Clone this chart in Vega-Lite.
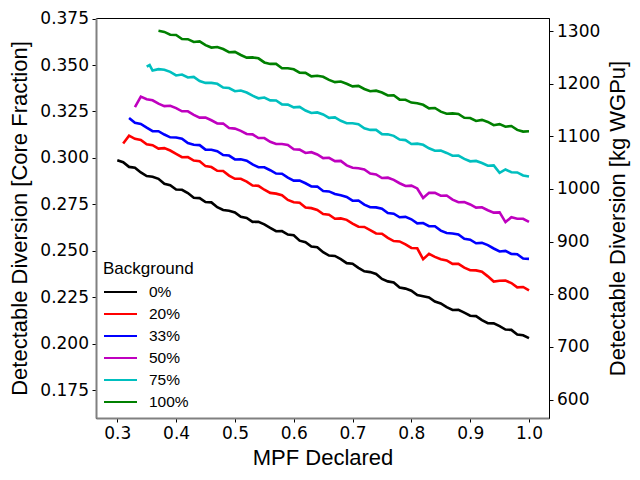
{
"$schema":"https://vega.github.io/schema/vega-lite/v6.json",
"width":453,"height":400,
"autosize":{"type":"none"},
"padding":{"left":96,"top":18,"right":91,"bottom":62},
"background":"white",
"config":{"view":{"stroke":"#000000","strokeWidth":1},
 "axis":{"labelFont":"DejaVu Sans","labelFontSize":17,"labelColor":"#000","titleFont":"Liberation Sans","titleFontSize":22,"titleFontWeight":"normal","titleColor":"#000","grid":false,"tickSize":4,"tickColor":"#000","tickWidth":1,"labelPadding":3.5}},
"layer":[
{"data":{"values":[
{"mpf":0.30,"div":0.2988,"bg":"0%"},{"mpf":0.31,"div":0.2977,"bg":"0%"},{"mpf":0.32,"div":0.2952,"bg":"0%"},{"mpf":0.33,"div":0.2948,"bg":"0%"},{"mpf":0.34,"div":0.2922,"bg":"0%"},{"mpf":0.35,"div":0.2903,"bg":"0%"},{"mpf":0.36,"div":0.2899,"bg":"0%"},{"mpf":0.37,"div":0.2888,"bg":"0%"},{"mpf":0.38,"div":0.2861,"bg":"0%"},{"mpf":0.39,"div":0.2853,"bg":"0%"},
{"mpf":0.40,"div":0.2830,"bg":"0%"},{"mpf":0.41,"div":0.2829,"bg":"0%"},{"mpf":0.42,"div":0.2811,"bg":"0%"},{"mpf":0.43,"div":0.2786,"bg":"0%"},{"mpf":0.44,"div":0.2784,"bg":"0%"},{"mpf":0.45,"div":0.2763,"bg":"0%"},{"mpf":0.46,"div":0.2761,"bg":"0%"},{"mpf":0.47,"div":0.2735,"bg":"0%"},{"mpf":0.48,"div":0.2720,"bg":"0%"},{"mpf":0.49,"div":0.2716,"bg":"0%"},
{"mpf":0.50,"div":0.2707,"bg":"0%"},{"mpf":0.51,"div":0.2683,"bg":"0%"},{"mpf":0.52,"div":0.2677,"bg":"0%"},{"mpf":0.53,"div":0.2656,"bg":"0%"},{"mpf":0.54,"div":0.2657,"bg":"0%"},{"mpf":0.55,"div":0.2643,"bg":"0%"},{"mpf":0.56,"div":0.2624,"bg":"0%"},{"mpf":0.57,"div":0.2606,"bg":"0%"},{"mpf":0.58,"div":0.2607,"bg":"0%"},{"mpf":0.59,"div":0.2588,"bg":"0%"},
{"mpf":0.60,"div":0.2584,"bg":"0%"},{"mpf":0.61,"div":0.2555,"bg":"0%"},{"mpf":0.62,"div":0.2547,"bg":"0%"},{"mpf":0.63,"div":0.2524,"bg":"0%"},{"mpf":0.64,"div":0.2520,"bg":"0%"},{"mpf":0.65,"div":0.2493,"bg":"0%"},{"mpf":0.66,"div":0.2475,"bg":"0%"},{"mpf":0.67,"div":0.2473,"bg":"0%"},{"mpf":0.68,"div":0.2456,"bg":"0%"},{"mpf":0.69,"div":0.2434,"bg":"0%"},
{"mpf":0.70,"div":0.2431,"bg":"0%"},{"mpf":0.71,"div":0.2409,"bg":"0%"},{"mpf":0.72,"div":0.2390,"bg":"0%"},{"mpf":0.73,"div":0.2386,"bg":"0%"},{"mpf":0.74,"div":0.2376,"bg":"0%"},{"mpf":0.75,"div":0.2349,"bg":"0%"},{"mpf":0.76,"div":0.2336,"bg":"0%"},{"mpf":0.77,"div":0.2330,"bg":"0%"},{"mpf":0.78,"div":0.2303,"bg":"0%"},{"mpf":0.79,"div":0.2297,"bg":"0%"},
{"mpf":0.80,"div":0.2286,"bg":"0%"},{"mpf":0.81,"div":0.2262,"bg":"0%"},{"mpf":0.82,"div":0.2256,"bg":"0%"},{"mpf":0.83,"div":0.2250,"bg":"0%"},{"mpf":0.84,"div":0.2228,"bg":"0%"},{"mpf":0.85,"div":0.2217,"bg":"0%"},{"mpf":0.86,"div":0.2197,"bg":"0%"},{"mpf":0.87,"div":0.2182,"bg":"0%"},{"mpf":0.88,"div":0.2183,"bg":"0%"},{"mpf":0.89,"div":0.2168,"bg":"0%"},
{"mpf":0.90,"div":0.2151,"bg":"0%"},{"mpf":0.91,"div":0.2149,"bg":"0%"},{"mpf":0.92,"div":0.2128,"bg":"0%"},{"mpf":0.93,"div":0.2111,"bg":"0%"},{"mpf":0.94,"div":0.2110,"bg":"0%"},{"mpf":0.95,"div":0.2095,"bg":"0%"},{"mpf":0.96,"div":0.2077,"bg":"0%"},{"mpf":0.97,"div":0.2075,"bg":"0%"},{"mpf":0.98,"div":0.2050,"bg":"0%"},{"mpf":0.99,"div":0.2046,"bg":"0%"},{"mpf":1.00,"div":0.2031,"bg":"0%"},

{"mpf":0.31,"div":0.3078,"bg":"20%"},{"mpf":0.32,"div":0.3120,"bg":"20%"},{"mpf":0.33,"div":0.3103,"bg":"20%"},{"mpf":0.34,"div":0.3097,"bg":"20%"},{"mpf":0.35,"div":0.3074,"bg":"20%"},{"mpf":0.36,"div":0.3069,"bg":"20%"},{"mpf":0.37,"div":0.3050,"bg":"20%"},{"mpf":0.38,"div":0.3053,"bg":"20%"},{"mpf":0.39,"div":0.3040,"bg":"20%"},
{"mpf":0.40,"div":0.3022,"bg":"20%"},{"mpf":0.41,"div":0.3004,"bg":"20%"},{"mpf":0.42,"div":0.3005,"bg":"20%"},{"mpf":0.43,"div":0.2986,"bg":"20%"},{"mpf":0.44,"div":0.2982,"bg":"20%"},{"mpf":0.45,"div":0.2956,"bg":"20%"},{"mpf":0.46,"div":0.2951,"bg":"20%"},{"mpf":0.47,"div":0.2931,"bg":"20%"},{"mpf":0.48,"div":0.2930,"bg":"20%"},{"mpf":0.49,"div":0.2905,"bg":"20%"},
{"mpf":0.50,"div":0.2888,"bg":"20%"},{"mpf":0.51,"div":0.2888,"bg":"20%"},{"mpf":0.52,"div":0.2873,"bg":"20%"},{"mpf":0.53,"div":0.2852,"bg":"20%"},{"mpf":0.54,"div":0.2850,"bg":"20%"},{"mpf":0.55,"div":0.2829,"bg":"20%"},{"mpf":0.56,"div":0.2812,"bg":"20%"},{"mpf":0.57,"div":0.2808,"bg":"20%"},{"mpf":0.58,"div":0.2800,"bg":"20%"},{"mpf":0.59,"div":0.2774,"bg":"20%"},
{"mpf":0.60,"div":0.2762,"bg":"20%"},{"mpf":0.61,"div":0.2759,"bg":"20%"},{"mpf":0.62,"div":0.2733,"bg":"20%"},{"mpf":0.63,"div":0.2730,"bg":"20%"},{"mpf":0.64,"div":0.2720,"bg":"20%"},{"mpf":0.65,"div":0.2698,"bg":"20%"},{"mpf":0.66,"div":0.2695,"bg":"20%"},{"mpf":0.67,"div":0.2673,"bg":"20%"},{"mpf":0.68,"div":0.2675,"bg":"20%"},{"mpf":0.69,"div":0.2667,"bg":"20%"},
{"mpf":0.70,"div":0.2647,"bg":"20%"},{"mpf":0.71,"div":0.2630,"bg":"20%"},{"mpf":0.72,"div":0.2629,"bg":"20%"},{"mpf":0.73,"div":0.2612,"bg":"20%"},{"mpf":0.74,"div":0.2594,"bg":"20%"},{"mpf":0.75,"div":0.2592,"bg":"20%"},{"mpf":0.76,"div":0.2570,"bg":"20%"},{"mpf":0.77,"div":0.2553,"bg":"20%"},{"mpf":0.78,"div":0.2551,"bg":"20%"},{"mpf":0.79,"div":0.2535,"bg":"20%"},
{"mpf":0.80,"div":0.2516,"bg":"20%"},{"mpf":0.81,"div":0.2514,"bg":"20%"},{"mpf":0.82,"div":0.2455,"bg":"20%"},{"mpf":0.83,"div":0.2484,"bg":"20%"},{"mpf":0.84,"div":0.2468,"bg":"20%"},{"mpf":0.85,"div":0.2455,"bg":"20%"},{"mpf":0.86,"div":0.2449,"bg":"20%"},{"mpf":0.87,"div":0.2430,"bg":"20%"},{"mpf":0.88,"div":0.2430,"bg":"20%"},{"mpf":0.89,"div":0.2410,"bg":"20%"},
{"mpf":0.90,"div":0.2396,"bg":"20%"},{"mpf":0.91,"div":0.2395,"bg":"20%"},{"mpf":0.92,"div":0.2388,"bg":"20%"},{"mpf":0.93,"div":0.2363,"bg":"20%"},{"mpf":0.94,"div":0.2335,"bg":"20%"},{"mpf":0.95,"div":0.2339,"bg":"20%"},{"mpf":0.96,"div":0.2341,"bg":"20%"},{"mpf":0.97,"div":0.2327,"bg":"20%"},{"mpf":0.98,"div":0.2304,"bg":"20%"},{"mpf":0.99,"div":0.2306,"bg":"20%"},{"mpf":1.00,"div":0.2288,"bg":"20%"},

{"mpf":0.32,"div":0.3215,"bg":"33%"},{"mpf":0.33,"div":0.3189,"bg":"33%"},{"mpf":0.34,"div":0.3183,"bg":"33%"},{"mpf":0.35,"div":0.3163,"bg":"33%"},{"mpf":0.36,"div":0.3144,"bg":"33%"},{"mpf":0.37,"div":0.3144,"bg":"33%"},{"mpf":0.38,"div":0.3126,"bg":"33%"},{"mpf":0.39,"div":0.3111,"bg":"33%"},
{"mpf":0.40,"div":0.3110,"bg":"33%"},{"mpf":0.41,"div":0.3104,"bg":"33%"},{"mpf":0.42,"div":0.3080,"bg":"33%"},{"mpf":0.43,"div":0.3071,"bg":"33%"},{"mpf":0.44,"div":0.3069,"bg":"33%"},{"mpf":0.45,"div":0.3045,"bg":"33%"},{"mpf":0.46,"div":0.3044,"bg":"33%"},{"mpf":0.47,"div":0.3036,"bg":"33%"},{"mpf":0.48,"div":0.3016,"bg":"33%"},{"mpf":0.49,"div":0.3013,"bg":"33%"},
{"mpf":0.50,"div":0.2992,"bg":"33%"},{"mpf":0.51,"div":0.2993,"bg":"33%"},{"mpf":0.52,"div":0.2985,"bg":"33%"},{"mpf":0.53,"div":0.2965,"bg":"33%"},{"mpf":0.54,"div":0.2950,"bg":"33%"},{"mpf":0.55,"div":0.2950,"bg":"33%"},{"mpf":0.56,"div":0.2934,"bg":"33%"},{"mpf":0.57,"div":0.2916,"bg":"33%"},{"mpf":0.58,"div":0.2915,"bg":"33%"},{"mpf":0.59,"div":0.2894,"bg":"33%"},
{"mpf":0.60,"div":0.2878,"bg":"33%"},{"mpf":0.61,"div":0.2878,"bg":"33%"},{"mpf":0.62,"div":0.2864,"bg":"33%"},{"mpf":0.63,"div":0.2847,"bg":"33%"},{"mpf":0.64,"div":0.2846,"bg":"33%"},{"mpf":0.65,"div":0.2822,"bg":"33%"},{"mpf":0.66,"div":0.2820,"bg":"33%"},{"mpf":0.67,"div":0.2806,"bg":"33%"},{"mpf":0.68,"div":0.2799,"bg":"33%"},{"mpf":0.69,"div":0.2790,"bg":"33%"},
{"mpf":0.70,"div":0.2770,"bg":"33%"},{"mpf":0.71,"div":0.2771,"bg":"33%"},{"mpf":0.72,"div":0.2749,"bg":"33%"},{"mpf":0.73,"div":0.2735,"bg":"33%"},{"mpf":0.74,"div":0.2734,"bg":"33%"},{"mpf":0.75,"div":0.2727,"bg":"33%"},{"mpf":0.76,"div":0.2704,"bg":"33%"},{"mpf":0.77,"div":0.2700,"bg":"33%"},{"mpf":0.78,"div":0.2681,"bg":"33%"},{"mpf":0.79,"div":0.2683,"bg":"33%"},
{"mpf":0.80,"div":0.2670,"bg":"33%"},{"mpf":0.81,"div":0.2648,"bg":"33%"},{"mpf":0.82,"div":0.2650,"bg":"33%"},{"mpf":0.83,"div":0.2633,"bg":"33%"},{"mpf":0.84,"div":0.2633,"bg":"33%"},{"mpf":0.85,"div":0.2609,"bg":"33%"},{"mpf":0.86,"div":0.2596,"bg":"33%"},{"mpf":0.87,"div":0.2594,"bg":"33%"},{"mpf":0.88,"div":0.2588,"bg":"33%"},{"mpf":0.89,"div":0.2565,"bg":"33%"},
{"mpf":0.90,"div":0.2560,"bg":"33%"},{"mpf":0.91,"div":0.2541,"bg":"33%"},{"mpf":0.92,"div":0.2543,"bg":"33%"},{"mpf":0.93,"div":0.2531,"bg":"33%"},{"mpf":0.94,"div":0.2513,"bg":"33%"},{"mpf":0.95,"div":0.2497,"bg":"33%"},{"mpf":0.96,"div":0.2500,"bg":"33%"},{"mpf":0.97,"div":0.2484,"bg":"33%"},{"mpf":0.98,"div":0.2482,"bg":"33%"},{"mpf":0.99,"div":0.2459,"bg":"33%"},{"mpf":1.00,"div":0.2457,"bg":"33%"},

{"mpf":0.33,"div":0.3273,"bg":"50%"},{"mpf":0.34,"div":0.3330,"bg":"50%"},{"mpf":0.35,"div":0.3316,"bg":"50%"},{"mpf":0.36,"div":0.3310,"bg":"50%"},{"mpf":0.37,"div":0.3292,"bg":"50%"},{"mpf":0.38,"div":0.3279,"bg":"50%"},{"mpf":0.39,"div":0.3281,"bg":"50%"},
{"mpf":0.40,"div":0.3268,"bg":"50%"},{"mpf":0.41,"div":0.3251,"bg":"50%"},{"mpf":0.42,"div":0.3251,"bg":"50%"},{"mpf":0.43,"div":0.3232,"bg":"50%"},{"mpf":0.44,"div":0.3217,"bg":"50%"},{"mpf":0.45,"div":0.3217,"bg":"50%"},{"mpf":0.46,"div":0.3203,"bg":"50%"},{"mpf":0.47,"div":0.3186,"bg":"50%"},{"mpf":0.48,"div":0.3185,"bg":"50%"},{"mpf":0.49,"div":0.3161,"bg":"50%"},
{"mpf":0.50,"div":0.3158,"bg":"50%"},{"mpf":0.51,"div":0.3146,"bg":"50%"},{"mpf":0.52,"div":0.3129,"bg":"50%"},{"mpf":0.53,"div":0.3127,"bg":"50%"},{"mpf":0.54,"div":0.3107,"bg":"50%"},{"mpf":0.55,"div":0.3107,"bg":"50%"},{"mpf":0.56,"div":0.3087,"bg":"50%"},{"mpf":0.57,"div":0.3075,"bg":"50%"},{"mpf":0.58,"div":0.3075,"bg":"50%"},{"mpf":0.59,"div":0.3070,"bg":"50%"},
{"mpf":0.60,"div":0.3047,"bg":"50%"},{"mpf":0.61,"div":0.3045,"bg":"50%"},{"mpf":0.62,"div":0.3027,"bg":"50%"},{"mpf":0.63,"div":0.3031,"bg":"50%"},{"mpf":0.64,"div":0.3019,"bg":"50%"},{"mpf":0.65,"div":0.2999,"bg":"50%"},{"mpf":0.66,"div":0.3001,"bg":"50%"},{"mpf":0.67,"div":0.2983,"bg":"50%"},{"mpf":0.68,"div":0.2984,"bg":"50%"},{"mpf":0.69,"div":0.2960,"bg":"50%"},
{"mpf":0.70,"div":0.2947,"bg":"50%"},{"mpf":0.71,"div":0.2945,"bg":"50%"},{"mpf":0.72,"div":0.2938,"bg":"50%"},{"mpf":0.73,"div":0.2916,"bg":"50%"},{"mpf":0.74,"div":0.2911,"bg":"50%"},{"mpf":0.75,"div":0.2892,"bg":"50%"},{"mpf":0.76,"div":0.2894,"bg":"50%"},{"mpf":0.77,"div":0.2882,"bg":"50%"},{"mpf":0.78,"div":0.2864,"bg":"50%"},{"mpf":0.79,"div":0.2849,"bg":"50%"},
{"mpf":0.80,"div":0.2851,"bg":"50%"},{"mpf":0.81,"div":0.2836,"bg":"50%"},{"mpf":0.82,"div":0.2785,"bg":"50%"},{"mpf":0.83,"div":0.2813,"bg":"50%"},{"mpf":0.84,"div":0.2812,"bg":"50%"},{"mpf":0.85,"div":0.2797,"bg":"50%"},{"mpf":0.86,"div":0.2798,"bg":"50%"},{"mpf":0.87,"div":0.2776,"bg":"50%"},{"mpf":0.88,"div":0.2762,"bg":"50%"},{"mpf":0.89,"div":0.2763,"bg":"50%"},
{"mpf":0.90,"div":0.2750,"bg":"50%"},{"mpf":0.91,"div":0.2733,"bg":"50%"},{"mpf":0.92,"div":0.2735,"bg":"50%"},{"mpf":0.93,"div":0.2719,"bg":"50%"},{"mpf":0.94,"div":0.2706,"bg":"50%"},{"mpf":0.95,"div":0.2707,"bg":"50%"},{"mpf":0.96,"div":0.2655,"bg":"50%"},{"mpf":0.97,"div":0.2681,"bg":"50%"},{"mpf":0.98,"div":0.2673,"bg":"50%"},{"mpf":0.99,"div":0.2673,"bg":"50%"},{"mpf":1.00,"div":0.2656,"bg":"50%"},

{"mpf":0.35,"div":0.3491,"bg":"75%"},{"mpf":0.355,"div":0.3500,"bg":"75%"},{"mpf":0.36,"div":0.3470,"bg":"75%"},{"mpf":0.37,"div":0.3478,"bg":"75%"},{"mpf":0.38,"div":0.3475,"bg":"75%"},{"mpf":0.39,"div":0.3463,"bg":"75%"},
{"mpf":0.40,"div":0.3444,"bg":"75%"},{"mpf":0.41,"div":0.3449,"bg":"75%"},{"mpf":0.42,"div":0.3433,"bg":"75%"},{"mpf":0.43,"div":0.3436,"bg":"75%"},{"mpf":0.44,"div":0.3414,"bg":"75%"},{"mpf":0.45,"div":0.3404,"bg":"75%"},{"mpf":0.46,"div":0.3404,"bg":"75%"},{"mpf":0.47,"div":0.3399,"bg":"75%"},{"mpf":0.48,"div":0.3379,"bg":"75%"},{"mpf":0.49,"div":0.3376,"bg":"75%"},
{"mpf":0.50,"div":0.3359,"bg":"75%"},{"mpf":0.51,"div":0.3363,"bg":"75%"},{"mpf":0.52,"div":0.3352,"bg":"75%"},{"mpf":0.53,"div":0.3335,"bg":"75%"},{"mpf":0.54,"div":0.3321,"bg":"75%"},{"mpf":0.55,"div":0.3325,"bg":"75%"},{"mpf":0.56,"div":0.3310,"bg":"75%"},{"mpf":0.57,"div":0.3309,"bg":"75%"},{"mpf":0.58,"div":0.3288,"bg":"75%"},{"mpf":0.59,"div":0.3287,"bg":"75%"},
{"mpf":0.60,"div":0.3272,"bg":"75%"},{"mpf":0.61,"div":0.3275,"bg":"75%"},{"mpf":0.62,"div":0.3255,"bg":"75%"},{"mpf":0.63,"div":0.3242,"bg":"75%"},{"mpf":0.64,"div":0.3245,"bg":"75%"},{"mpf":0.65,"div":0.3234,"bg":"75%"},{"mpf":0.66,"div":0.3216,"bg":"75%"},{"mpf":0.67,"div":0.3218,"bg":"75%"},{"mpf":0.68,"div":0.3200,"bg":"75%"},{"mpf":0.69,"div":0.3187,"bg":"75%"},
{"mpf":0.70,"div":0.3187,"bg":"75%"},{"mpf":0.71,"div":0.3182,"bg":"75%"},{"mpf":0.72,"div":0.3160,"bg":"75%"},{"mpf":0.73,"div":0.3151,"bg":"75%"},{"mpf":0.74,"div":0.3151,"bg":"75%"},{"mpf":0.75,"div":0.3128,"bg":"75%"},{"mpf":0.76,"div":0.3127,"bg":"75%"},{"mpf":0.77,"div":0.3119,"bg":"75%"},{"mpf":0.78,"div":0.3099,"bg":"75%"},{"mpf":0.79,"div":0.3096,"bg":"75%"},
{"mpf":0.80,"div":0.3075,"bg":"75%"},{"mpf":0.81,"div":0.3077,"bg":"75%"},{"mpf":0.82,"div":0.3071,"bg":"75%"},{"mpf":0.83,"div":0.3052,"bg":"75%"},{"mpf":0.84,"div":0.3039,"bg":"75%"},{"mpf":0.85,"div":0.3040,"bg":"75%"},{"mpf":0.86,"div":0.3027,"bg":"75%"},{"mpf":0.87,"div":0.3012,"bg":"75%"},{"mpf":0.88,"div":0.3013,"bg":"75%"},{"mpf":0.89,"div":0.2995,"bg":"75%"},
{"mpf":0.90,"div":0.2982,"bg":"75%"},{"mpf":0.91,"div":0.2984,"bg":"75%"},{"mpf":0.92,"div":0.2973,"bg":"75%"},{"mpf":0.93,"div":0.2958,"bg":"75%"},{"mpf":0.94,"div":0.2960,"bg":"75%"},{"mpf":0.95,"div":0.2920,"bg":"75%"},{"mpf":0.96,"div":0.2938,"bg":"75%"},{"mpf":0.97,"div":0.2923,"bg":"75%"},{"mpf":0.98,"div":0.2922,"bg":"75%"},{"mpf":0.99,"div":0.2906,"bg":"75%"},{"mpf":1.00,"div":0.2900,"bg":"75%"},

{"mpf":0.37,"div":0.3684,"bg":"100%"},{"mpf":0.38,"div":0.3678,"bg":"100%"},{"mpf":0.39,"div":0.3663,"bg":"100%"},
{"mpf":0.40,"div":0.3662,"bg":"100%"},{"mpf":0.41,"div":0.3640,"bg":"100%"},{"mpf":0.42,"div":0.3639,"bg":"100%"},{"mpf":0.43,"div":0.3624,"bg":"100%"},{"mpf":0.44,"div":0.3627,"bg":"100%"},{"mpf":0.45,"div":0.3607,"bg":"100%"},{"mpf":0.46,"div":0.3594,"bg":"100%"},{"mpf":0.47,"div":0.3597,"bg":"100%"},{"mpf":0.48,"div":0.3586,"bg":"100%"},{"mpf":0.49,"div":0.3569,"bg":"100%"},
{"mpf":0.50,"div":0.3571,"bg":"100%"},{"mpf":0.51,"div":0.3554,"bg":"100%"},{"mpf":0.52,"div":0.3540,"bg":"100%"},{"mpf":0.53,"div":0.3541,"bg":"100%"},{"mpf":0.54,"div":0.3536,"bg":"100%"},{"mpf":0.55,"div":0.3514,"bg":"100%"},{"mpf":0.56,"div":0.3506,"bg":"100%"},{"mpf":0.57,"div":0.3506,"bg":"100%"},{"mpf":0.58,"div":0.3483,"bg":"100%"},{"mpf":0.59,"div":0.3483,"bg":"100%"},
{"mpf":0.60,"div":0.3477,"bg":"100%"},{"mpf":0.61,"div":0.3459,"bg":"100%"},{"mpf":0.62,"div":0.3458,"bg":"100%"},{"mpf":0.63,"div":0.3439,"bg":"100%"},{"mpf":0.64,"div":0.3442,"bg":"100%"},{"mpf":0.65,"div":0.3437,"bg":"100%"},{"mpf":0.66,"div":0.3420,"bg":"100%"},{"mpf":0.67,"div":0.3408,"bg":"100%"},{"mpf":0.68,"div":0.3411,"bg":"100%"},{"mpf":0.69,"div":0.3399,"bg":"100%"},
{"mpf":0.70,"div":0.3385,"bg":"100%"},{"mpf":0.71,"div":0.3388,"bg":"100%"},{"mpf":0.72,"div":0.3371,"bg":"100%"},{"mpf":0.73,"div":0.3359,"bg":"100%"},{"mpf":0.74,"div":0.3362,"bg":"100%"},{"mpf":0.75,"div":0.3352,"bg":"100%"},{"mpf":0.76,"div":0.3336,"bg":"100%"},{"mpf":0.77,"div":0.3337,"bg":"100%"},{"mpf":0.78,"div":0.3314,"bg":"100%"},{"mpf":0.79,"div":0.3313,"bg":"100%"},
{"mpf":0.80,"div":0.3298,"bg":"100%"},{"mpf":0.81,"div":0.3294,"bg":"100%"},{"mpf":0.82,"div":0.3286,"bg":"100%"},{"mpf":0.83,"div":0.3267,"bg":"100%"},{"mpf":0.84,"div":0.3269,"bg":"100%"},{"mpf":0.85,"div":0.3249,"bg":"100%"},{"mpf":0.86,"div":0.3238,"bg":"100%"},{"mpf":0.87,"div":0.3240,"bg":"100%"},{"mpf":0.88,"div":0.3237,"bg":"100%"},{"mpf":0.89,"div":0.3216,"bg":"100%"},
{"mpf":0.90,"div":0.3215,"bg":"100%"},{"mpf":0.91,"div":0.3199,"bg":"100%"},{"mpf":0.92,"div":0.3205,"bg":"100%"},{"mpf":0.93,"div":0.3194,"bg":"100%"},{"mpf":0.94,"div":0.3176,"bg":"100%"},{"mpf":0.95,"div":0.3182,"bg":"100%"},{"mpf":0.96,"div":0.3168,"bg":"100%"},{"mpf":0.97,"div":0.3172,"bg":"100%"},{"mpf":0.98,"div":0.3151,"bg":"100%"},{"mpf":0.99,"div":0.3142,"bg":"100%"},{"mpf":1.00,"div":0.3144,"bg":"100%"}
]},
"mark":{"type":"line","strokeWidth":2.6,"clip":true},
"encoding":{
 "x":{"field":"mpf","type":"quantitative","scale":{"domain":[0.2638,1.034],"nice":false,"zero":false},
  "axis":{"values":[0.3,0.4,0.5,0.6,0.7,0.8,0.9,1.0],"format":".1f","title":"MPF Declared","domainColor":"#808080","domainWidth":2,"titleX":226.5,"titleY":46,"titleBaseline":"alphabetic","titleAnchor":null}},
 "y":{"field":"div","type":"quantitative","scale":{"domain":[0.1601,0.3753],"nice":false,"zero":false},
  "axis":{"values":[0.175,0.2,0.225,0.25,0.275,0.3,0.325,0.35,0.375],"format":".3f","title":"Detectable Diversion [Core Fraction]","domainColor":"#808080","domainWidth":2,"titleAngle":270,"titleX":-70,"titleY":200,"titleBaseline":"alphabetic","titleAlign":"center"}},
 "color":{"field":"bg","type":"nominal","sort":["0%","20%","33%","50%","75%","100%"],
  "scale":{"domain":["0%","20%","33%","50%","75%","100%"],"range":["#000000","#ff0000","#0000ff","#bf00bf","#00bfbf","#008000"]},
  "legend":{"title":"Background","orient":"none","legendX":7,"legendY":243,"padding":0,"titleFont":"Liberation Sans","titleFontSize":17,"titleFontWeight":"normal","titleColor":"#000","titlePadding":6,"labelFont":"Liberation Sans","labelFontSize":15.5,"labelColor":"#000","symbolType":"stroke","symbolSize":1089,"symbolStrokeWidth":2,"clipHeight":16,"rowPadding":5,"labelOffset":11}}
}},
{"data":{"values":[{"kg":600},{"kg":1300}]},
 "mark":{"type":"rule","opacity":0},
 "encoding":{"y":{"field":"kg","type":"quantitative","scale":{"domain":[565,1324.7],"nice":false,"zero":false},
  "axis":{"orient":"right","values":[600,700,800,900,1000,1100,1200,1300],"format":"d","title":"Detectable Diversion [kg WGPu]","domainColor":"#000","domainWidth":1,"titleAngle":270,"titleX":75,"titleY":200,"titleBaseline":"alphabetic","titleAlign":"center"}}}}
],
"resolve":{"scale":{"y":"independent"}}
}
